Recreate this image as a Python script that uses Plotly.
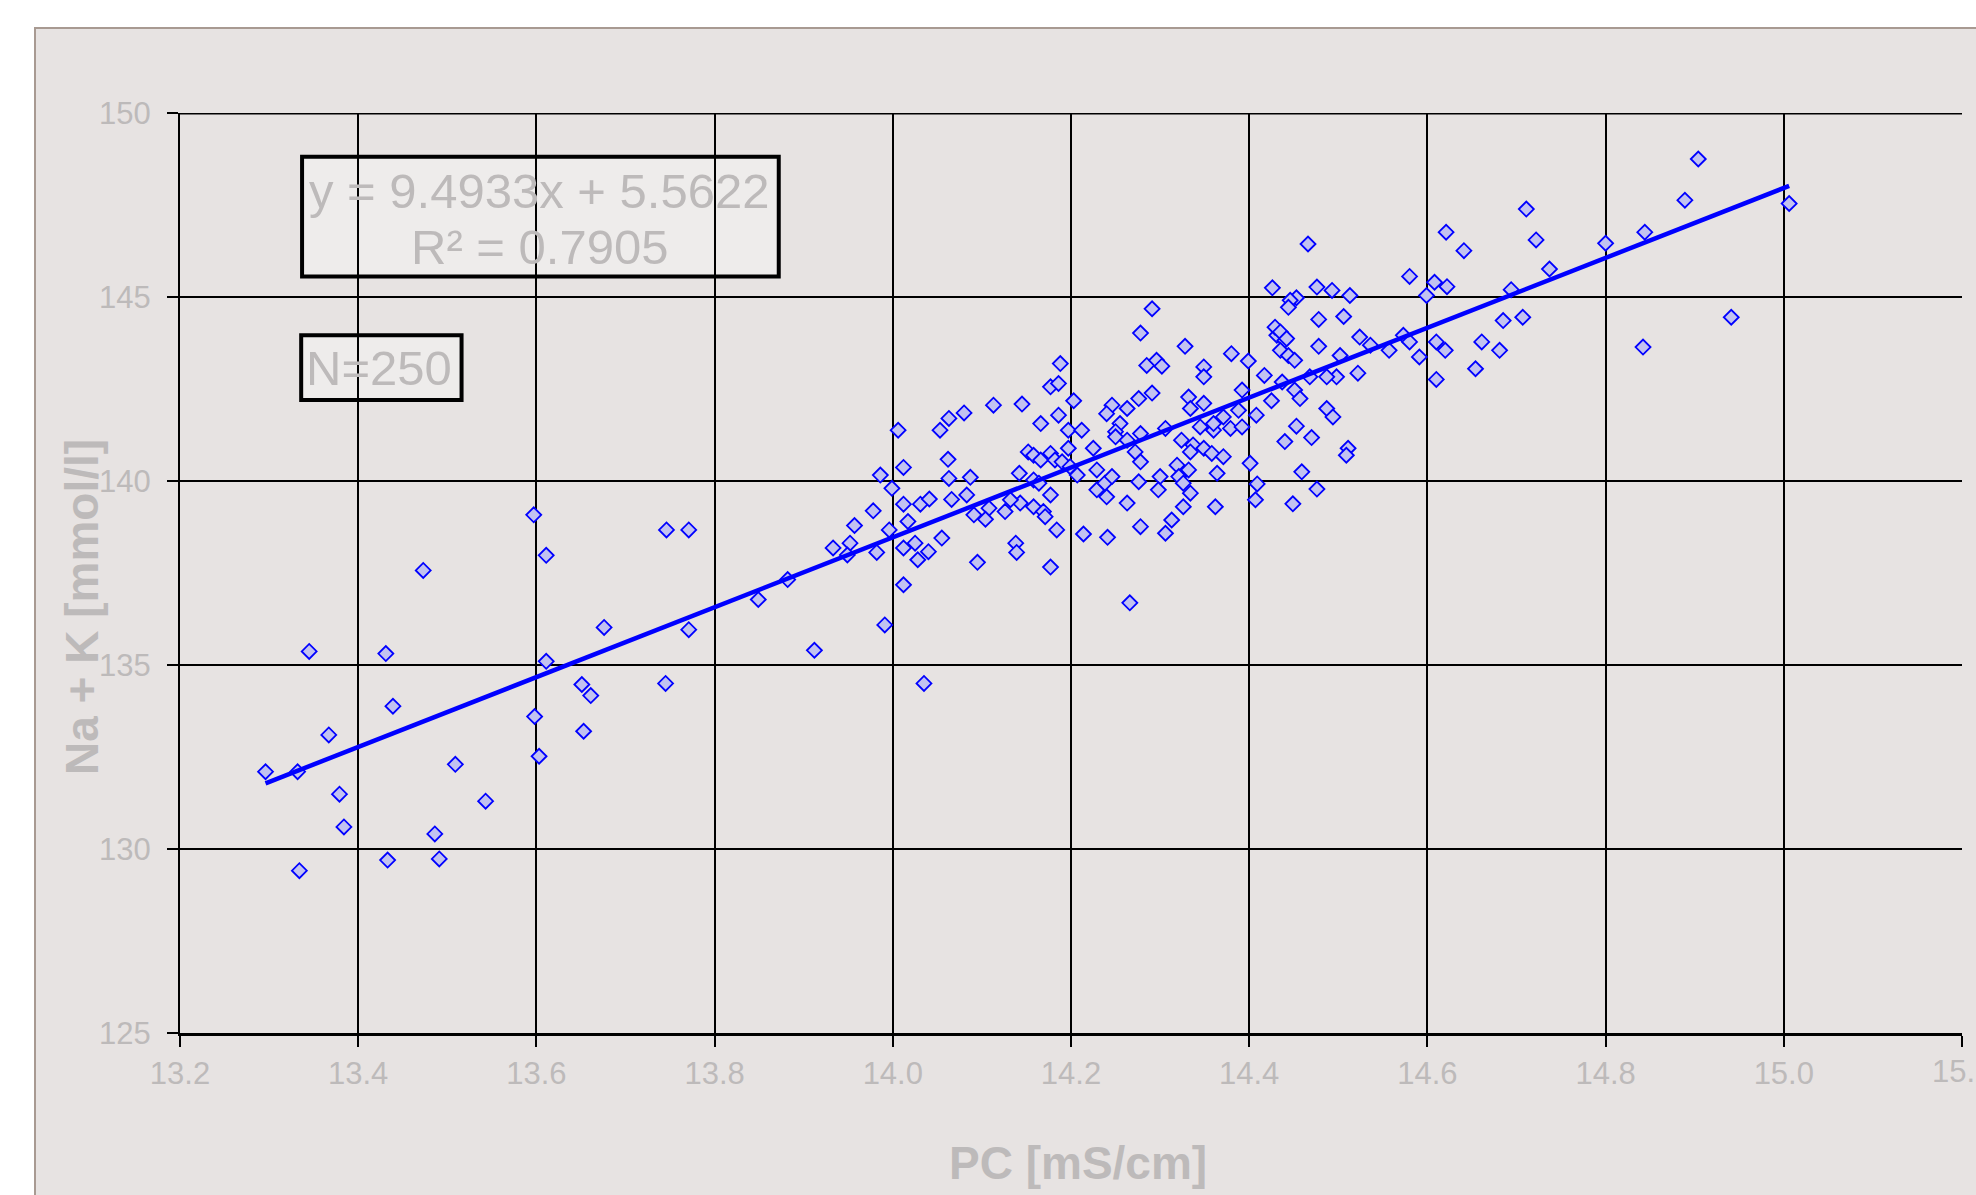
import plotly.graph_objects as go

# ---- data ----
pc = [
    13.296, 13.332, 13.334, 13.345, 13.367, 13.379, 13.384, 13.431, 13.433, 13.439,
    13.473, 13.486, 13.491, 13.509, 13.543, 13.597, 13.598, 13.603, 13.611, 13.611,
    13.651, 13.661, 13.653, 13.676, 13.746, 13.771, 13.771, 13.745,
    14.177, 14.186, 14.203, 14.113, 14.145, 14.080, 14.063, 14.186, 14.166, 14.006,
    14.053, 14.197, 14.212, 14.152, 14.158, 14.166, 14.177, 14.182, 14.190, 14.197,
    14.199, 14.062, 14.012, 13.986, 14.063, 14.087, 14.142, 14.207, 13.999, 14.158,
    14.164, 14.012, 14.031, 14.041, 14.066, 14.083, 14.177, 14.108, 14.091, 14.104,
    14.126, 14.143, 14.158, 14.169, 14.171, 13.978, 13.957, 14.017, 13.996, 14.184,
    14.214, 14.241, 14.055, 13.952, 13.949, 13.933, 14.012, 14.025, 13.982, 14.040,
    14.028, 14.138, 14.139, 14.095, 14.177, 13.882, 14.012, 13.849, 13.991, 13.912,
    14.035, 14.132, 14.225,
    14.278, 14.328, 14.380, 14.399, 14.431, 14.440, 14.435, 14.444, 14.451, 14.478,
    14.524, 14.536, 14.573, 14.580, 14.557, 14.610, 14.620, 14.591, 14.610, 14.502,
    14.522, 14.498, 14.487, 14.468, 14.451, 14.457, 14.487, 14.494, 14.453, 14.440,
    14.470, 14.511, 14.509, 14.459, 14.476, 14.449, 14.401, 14.409, 14.407, 14.425,
    14.408, 14.417, 14.392, 14.437, 14.349, 14.349, 14.285, 14.296, 14.302, 14.291,
    14.276, 14.263, 14.246, 14.240, 14.255, 14.250, 14.250, 14.263, 14.278, 14.272,
    14.278, 14.188, 14.306, 14.332, 14.334, 14.349, 14.324, 14.337, 14.334, 14.349,
    14.358, 14.371, 14.345, 14.360, 14.360, 14.379, 14.392, 14.371, 14.388, 14.319,
    14.332, 14.321, 14.326, 14.334, 14.300, 14.298, 14.276, 14.364, 14.362, 14.326,
    14.313, 14.306, 14.278, 14.263, 14.240, 14.229, 14.238, 14.246, 14.229, 14.266,
    14.711, 14.621, 14.722, 14.641, 14.737, 14.466, 14.580, 14.608, 14.599, 14.622,
    14.694, 14.426, 14.476, 14.493, 14.513, 14.453, 14.446, 14.444, 14.478, 14.506,
    14.685, 14.707, 14.429, 14.435, 14.442, 14.661, 14.681, 14.654, 14.291, 14.842,
    14.800, 14.844, 14.904, 14.889, 15.006, 14.941,
]
nak = [
    132.10, 132.10, 129.41, 135.37, 133.10, 131.49, 130.60, 135.31, 129.70, 133.88,
    137.57, 130.41, 129.73, 132.30, 131.30, 139.08, 133.60, 132.52, 137.98, 135.10,
    134.47, 134.17, 133.20, 136.02, 138.67, 138.67, 135.96, 134.50,
    142.56, 142.65, 142.18, 142.06, 142.09, 141.85, 141.70, 141.79, 141.56, 141.38,
    141.38, 141.38, 141.38, 140.79, 140.70, 140.57, 140.75, 140.57, 140.52, 140.89,
    140.39, 140.59, 140.37, 140.16, 140.07, 140.10, 140.21, 140.16, 139.80, 140.03,
    139.94, 139.37, 139.37, 139.51, 139.50, 139.62, 139.62, 139.26, 139.08, 138.96,
    139.17, 139.40, 139.30, 139.17, 139.03, 139.19, 138.79, 138.90, 138.67, 138.67,
    138.56, 138.47, 138.45, 138.31, 137.99, 138.18, 138.18, 138.31, 138.06, 138.08,
    137.86, 138.31, 138.06, 137.79, 137.66, 137.32, 137.18, 136.78, 136.09, 135.40,
    134.50, 139.49, 140.89,
    144.02, 143.66, 143.46, 143.26, 143.96, 143.82, 143.55, 143.41, 143.28, 143.66,
    143.91, 143.69, 143.96, 143.78, 143.55, 143.78, 143.55, 143.37, 142.76, 143.41,
    142.93, 142.83, 142.83, 142.83, 142.47, 142.24, 141.97, 141.74, 141.49, 141.07,
    141.18, 140.89, 140.70, 140.25, 139.78, 139.38, 140.48, 139.92, 139.49, 142.18,
    141.79, 142.87, 142.47, 142.69, 143.10, 142.83, 143.14, 143.28, 143.12, 142.39,
    142.24, 141.97, 142.06, 141.83, 141.56, 141.34, 141.20, 141.11, 141.29, 140.79,
    140.52, 143.19, 141.43, 142.28, 141.97, 142.11, 141.11, 140.98, 140.79, 140.89,
    140.75, 140.66, 141.47, 141.38, 141.56, 141.43, 141.47, 141.74, 141.92, 140.43,
    140.30, 140.12, 139.94, 139.67, 140.12, 139.76, 139.98, 140.21, 139.30, 139.30,
    138.94, 138.58, 138.76, 139.40, 139.57, 139.76, 139.94, 140.12, 140.30, 136.69,
    147.39, 146.76, 146.55, 146.26, 145.76, 146.44, 145.56, 145.40, 145.04, 145.28,
    145.20, 145.25, 145.27, 145.18, 145.04, 144.98, 144.91, 144.72, 144.39, 144.47,
    144.36, 144.45, 144.18, 144.05, 143.87, 143.78, 143.55, 143.05, 144.68, 143.64,
    146.46, 146.76, 148.75, 147.63, 147.54, 144.45,
]

slope = 9.4933
intercept = 5.5622
eq_text = "y = 9.4933x + 5.5622"
r2_text = "R² = 0.7905"
n_text = "N=250"
x_title = "PC [mS/cm]"
y_title = "Na + K [mmol/l]"
x_ticks = [13.2, 13.4, 13.6, 13.8, 14.0, 14.2, 14.4, 14.6, 14.8, 15.0, 15.2]
y_ticks = [125, 130, 135, 140, 145, 150]

FONT = "Liberation Sans, Arial, sans-serif"
LABEL_GRAY = "#BDBABA"

fig = go.Figure()
fig.add_trace(go.Scatter(
    x=pc, y=nak, mode="markers",
    marker=dict(symbol="diamond", size=11.5, color="#C2C2F0",
                line=dict(color="#0000FF", width=1.8)),
    hoverinfo="skip", showlegend=False,
))
xmin, xmax = min(pc), max(pc)
fig.add_trace(go.Scatter(
    x=[xmin, xmax], y=[slope * xmin + intercept, slope * xmax + intercept],
    mode="lines", line=dict(color="#0000FF", width=4.5),
    hoverinfo="skip", showlegend=False,
))

W, H = 1976, 1195
L, R, T, B = 180, 14, 113, 162
pw, ph = W - L - R, H - T - B

fig.update_layout(
    width=W, height=H,
    margin=dict(l=L, r=R, t=T, b=B, pad=0),
    paper_bgcolor="white",
    plot_bgcolor="#ECE9E8",
    font=dict(family=FONT, color=LABEL_GRAY),
    showlegend=False,
    xaxis=dict(
        range=[13.2, 15.2], tickmode="array", tickvals=x_ticks,
        ticktext=[f"{v:.1f}" for v in x_ticks],
        showgrid=True, gridcolor="black", gridwidth=1.6,
        showline=True, linecolor="black", linewidth=3,
        ticks="outside", ticklen=11, tickwidth=1.6, tickcolor="black",
        tickfont=dict(size=31, color=LABEL_GRAY, family=FONT),
        ticklabelstandoff=0, zeroline=False,
    ),
    yaxis=dict(
        range=[125, 150], tickmode="array", tickvals=y_ticks,
        ticktext=[str(v) for v in y_ticks],
        showgrid=True, gridcolor="black", gridwidth=1.6,
        showline=True, linecolor="black", linewidth=2,
        ticks="outside", ticklen=11, tickwidth=1.6, tickcolor="black",
        tickfont=dict(size=31, color=LABEL_GRAY, family=FONT),
        ticklabelstandoff=10, zeroline=False,
    ),
)

# chart area background (behind plot area)
fig.add_shape(type="rect", xref="paper", yref="paper",
              x0=(35 - L) / pw, x1=1.05,
              y0=-0.25, y1=(H - B - 28) / ph,
              fillcolor="#E7E3E2", line=dict(color="#A89A92", width=2),
              layer="below")
# top frame line at 150
fig.add_shape(type="line", xref="paper", yref="y", x0=0, x1=1, y0=150, y1=150,
              line=dict(color="black", width=3), layer="above")

# text boxes
fig.add_shape(type="rect", xref="x", yref="y", x0=13.337, x1=13.872, y0=145.56, y1=148.81,
              fillcolor="rgba(244,242,241,0.6)", line=dict(width=0), layer="below")
fig.add_shape(type="rect", xref="x", yref="y", x0=13.337, x1=13.872, y0=145.56, y1=148.81,
              line=dict(color="black", width=4), layer="above")
fig.add_shape(type="rect", xref="x", yref="y", x0=13.336, x1=13.516, y0=142.2, y1=143.96,
              fillcolor="rgba(244,242,241,0.6)", line=dict(width=0), layer="below")
fig.add_shape(type="rect", xref="x", yref="y", x0=13.336, x1=13.516, y0=142.2, y1=143.96,
              line=dict(color="black", width=4), layer="above")

fig.add_annotation(x=13.603, y=147.89, xref="x", yref="y", text=eq_text, showarrow=False,
                   font=dict(size=49, color=LABEL_GRAY, family=FONT), xanchor="center", yanchor="middle")
fig.add_annotation(x=13.603, y=146.37, xref="x", yref="y", text=r2_text, showarrow=False,
                   font=dict(size=49, color=LABEL_GRAY, family=FONT), xanchor="center", yanchor="middle")
fig.add_annotation(x=13.423, y=143.06, xref="x", yref="y", text=n_text, showarrow=False,
                   font=dict(size=49, color=LABEL_GRAY, family=FONT), xanchor="center", yanchor="middle")

# last x tick label (cut off at the right edge in the original)
fig.add_annotation(x=15.2, y=(H - B - 1071) / ph, xref="x", yref="paper",
                   text=f"{x_ticks[-1]:.1f}", showarrow=False,
                   font=dict(size=31, color=LABEL_GRAY, family=FONT),
                   xanchor="center", yanchor="middle")

# axis titles
fig.add_annotation(x=(1078 - L) / pw, y=(H - B - 1163) / ph, xref="paper", yref="paper",
                   text=f"<b>{x_title}</b>", showarrow=False,
                   font=dict(size=46, color=LABEL_GRAY, family=FONT),
                   xanchor="center", yanchor="middle")
fig.add_annotation(x=(82 - L) / pw, y=(H - B - 607) / ph, xref="paper", yref="paper",
                   text=f"<b>{y_title}</b>", showarrow=False, textangle=-90,
                   font=dict(size=46, color=LABEL_GRAY, family=FONT),
                   xanchor="center", yanchor="middle")

fig.write_html("out.html", config={"displayModeBar": False},
               post_script="document.body.style.margin='0';document.body.style.overflow='hidden';")
